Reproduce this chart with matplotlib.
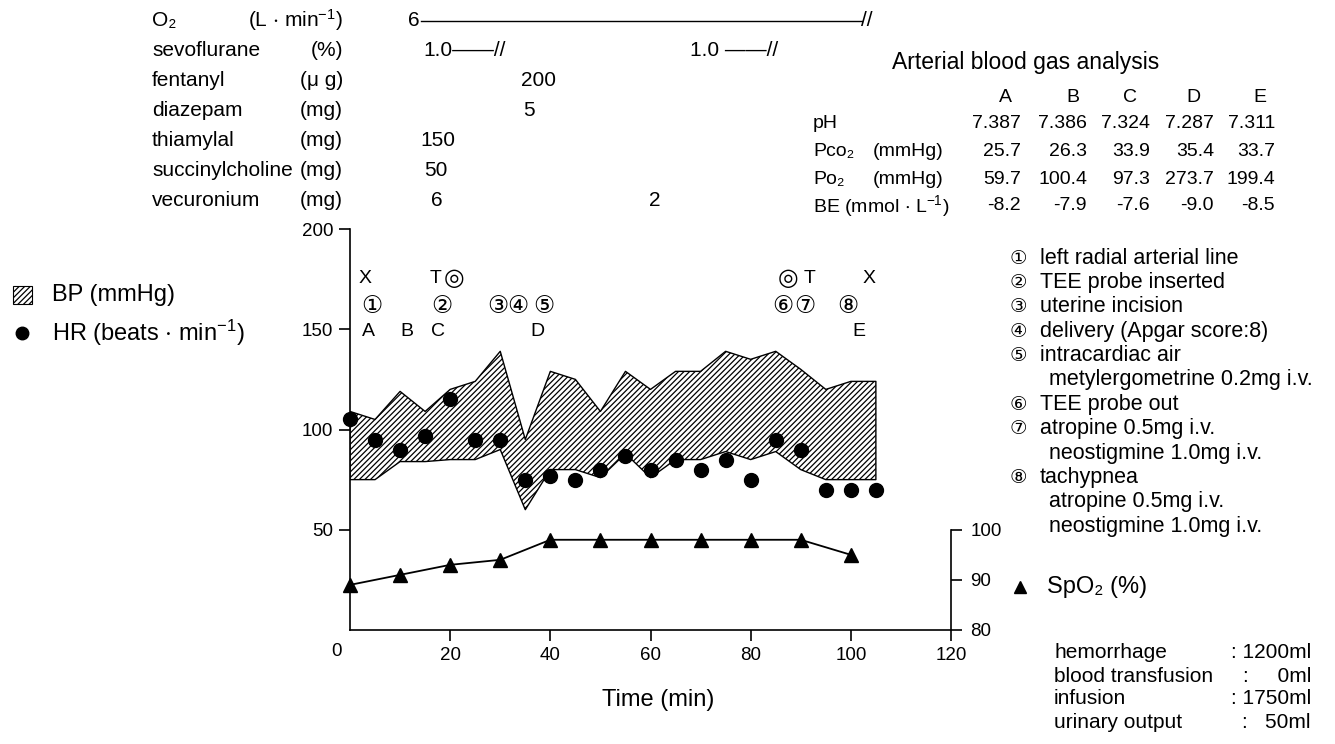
import matplotlib
matplotlib.use("Agg")
from matplotlib import pyplot as plt
from matplotlib.patches import Rectangle
from matplotlib.lines import Line2D

W, H = 1335, 744

# BP band (systolic / diastolic), HR, SpO2
t_bp = [0, 5, 10, 15, 20, 25, 30, 35, 40, 45, 50, 55, 60, 65, 70, 75, 80, 85, 90, 95, 100, 105]
bp_sys = [109, 105, 119, 109, 120, 124, 139, 95, 129, 125, 109, 129, 120, 129, 129, 139, 135, 139, 130, 120, 124, 124]
bp_dia = [75, 75, 84, 84, 85, 85, 90, 60, 80, 80, 76, 88, 76, 85, 85, 89, 85, 89, 80, 75, 75, 75]
hr = [105, 95, 90, 97, 115, 95, 95, 75, 77, 75, 80, 87, 80, 85, 80, 85, 75, 95, 90, 70, 70, 70]
t_spo2 = [0, 10, 20, 30, 40, 50, 60, 70, 80, 90, 100]
spo2 = [89, 91, 93, 94, 98, 98, 98, 98, 98, 98, 95]

# event marks above the curves: (label, time, row value)
letters = [("X", 3.0, 175.5), ("T", 17.0, 175.5), ("T", 91.7, 175.5), ("X", 103.6, 175.5),
           ("A", 3.6, 149), ("B", 11.4, 149), ("C", 17.6, 149),
           ("D", 37.5, 149), ("E", 101.6, 149)]
symbols = [("◎", 20.8, 175.5), ("◎", 87.5, 175.5),
           ("①", 4.3, 161.5), ("②", 18.3, 161.5), ("③", 29.6, 161.5),
           ("④", 33.6, 161.5), ("⑤", 38.6, 161.5), ("⑥", 86.4, 161.5),
           ("⑦", 90.8, 161.5), ("⑧", 99.3, 161.5)]

abg_cols = ["A", "B", "C", "D", "E"]
abg_ph = ["7.387", "7.386", "7.324", "7.287", "7.311"]
abg_pco2 = ["25.7", "26.3", "33.9", "35.4", "33.7"]
abg_po2 = ["59.7", "100.4", "97.3", "273.7", "199.4"]
abg_be = ["-8.2", "-7.9", "-7.6", "-9.0", "-8.5"]

drugs = ["O₂", "sevoflurane", "fentanyl", "diazepam", "thiamylal", "succinylcholine", "vecuronium"]
units = ["(L $\\cdot$ min$^{-1}$)", "(%)", "(μ g)", "(mg)", "(mg)", "(mg)", "(mg)"]

notes = [("①", "left radial arterial line"), ("②", "TEE probe inserted"),
         ("③", "uterine incision"), ("④", "delivery (Apgar score:8)"),
         ("⑤", "intracardiac air"), ("", "metylergometrine 0.2mg i.v."),
         ("⑥", "TEE probe out"), ("⑦", "atropine 0.5mg i.v."),
         ("", "neostigmine 1.0mg i.v."), ("⑧", "tachypnea"),
         ("", "atropine 0.5mg i.v."), ("", "neostigmine 1.0mg i.v.")]

balance = [("hemorrhage", ": 1200ml"), ("blood transfusion", ":     0ml"),
           ("infusion", ": 1750ml"), ("urinary output", ":   50ml")]

FAM = ["Liberation Sans", "DejaVu Sans"]
SYM = ["DejaVu Sans"]
plt.rcParams["font.family"] = FAM
plt.rcParams["mathtext.fontset"] = "custom"
plt.rcParams["mathtext.rm"] = "Liberation Sans"
plt.rcParams["mathtext.default"] = "regular"
plt.rcParams["hatch.linewidth"] = 0.9

fig = plt.figure(figsize=(W / 100, H / 100), dpi=100)
ax = fig.add_axes([350 / W, (H - 630) / H, 601 / W, 401 / H])
ax.set_xlim(0, 120)
ax.set_ylim(0, 200)

ax.fill_between(t_bp, bp_dia, bp_sys, facecolor="white", edgecolor="black",
                hatch="//////", linewidth=1.0)
ax.plot(t_bp, hr, "o", color="black", markersize=10, clip_on=False)

for s, tx, yv in letters:
    ax.text(tx, yv, s, ha="center", va="center", fontsize=14)
for s, tx, yv in symbols:
    ax.text(tx, yv, s, ha="center", va="center", fontsize=17, family=SYM)

for sp in ["top", "right"]:
    ax.spines[sp].set_visible(False)
for sp in ["left", "bottom"]:
    ax.spines[sp].set_linewidth(1.2)
ax.set_xticks([20, 40, 60, 80, 100, 120])
ax.set_yticks([50, 100, 150, 200])
ax.tick_params(direction="out", length=8, width=1.2, labelsize=13.5, pad=4)

ax2 = ax.twinx()
ax2.set_ylim(80, 160)
ax2.plot(t_spo2, spo2, "-^", color="black", markersize=10, linewidth=1.3, clip_on=False)
for sp in ["top", "left", "bottom"]:
    ax2.spines[sp].set_visible(False)
ax2.spines["right"].set_bounds(80, 100)
ax2.spines["right"].set_linewidth(1.2)
ax2.set_yticks([80, 90, 100])
ax2.tick_params(direction="out", length=8, width=1.2, labelsize=13.5, pad=6)


def ftxt(x, y, s, **kw):
    kw.setdefault("va", "center")
    kw.setdefault("fontsize", 15)
    fig.text(x / W, 1 - y / H, s, **kw)


ftxt(337, 652, "0", fontsize=13.5, ha="center")
ftxt(658, 700, "Time (min)", fontsize=17, ha="center")

# left legend
fig.add_artist(Rectangle((13 / W, 1 - 304 / H), 19 / W, 18 / H, transform=fig.transFigure,
                         facecolor="white", edgecolor="black", hatch="//////", linewidth=0.8))
fig.add_artist(Line2D([22 / W], [1 - 333 / H], marker="o", color="black", markersize=9,
                      transform=fig.transFigure))
ftxt(52, 295, "BP (mmHg)", fontsize=17)
ftxt(52, 333, "HR (beats $\\cdot$ min$^{-1}$)", fontsize=17)

# drug table
rows_y = [20, 50, 80, 110, 140, 170, 200]
for yy, d, u in zip(rows_y, drugs, units):
    ftxt(152, yy, d)
    ftxt(343, yy, u, ha="right")
ftxt(408, 20, "6")
fig.add_artist(Line2D([421 / W, 862 / W], [1 - 21 / H, 1 - 21 / H], color="black",
                      linewidth=1.0, transform=fig.transFigure))
ftxt(861, 20, "//")
ftxt(423, 50, "1.0——//")
ftxt(690, 50, "1.0 ——//")
ftxt(521, 80, "200")
ftxt(523, 110, "5")
ftxt(420, 140, "150")
ftxt(424, 170, "50")
ftxt(431, 200, "6")
ftxt(649, 200, "2")

# arterial blood gas table
ftxt(892, 62, "Arterial blood gas analysis", fontsize=16.5)
col_x = [1005, 1073, 1130, 1193, 1260]
col_r = [1021, 1087, 1150, 1214, 1275]
for cx, c in zip(col_x, abg_cols):
    ftxt(cx, 97, c, ha="center", fontsize=14)
labels = [("pH", ""), ("Pco₂", "(mmHg)"), ("Po₂", "(mmHg)"), ("BE (mmol $\\cdot$ L$^{-1}$)", "")]
for (lab, unit), yy, vals in zip(labels, [124, 152, 179, 206],
                                 [abg_ph, abg_pco2, abg_po2, abg_be]):
    ftxt(813, yy, lab, fontsize=14)
    if unit:
        ftxt(873, yy, unit, fontsize=14)
    for rx, v in zip(col_r, vals):
        ftxt(rx, yy, v, ha="right", fontsize=14)

# event notes
for i, (num, s) in enumerate(notes):
    yy = 258 + 24.4 * i
    if num:
        ftxt(1018, yy, num, ha="center", fontsize=14, family=SYM)
        ftxt(1040, yy, s, fontsize=15.5)
    else:
        ftxt(1049, yy, s, fontsize=15.5)

fig.add_artist(Line2D([1020 / W], [1 - 587 / H], marker="^", color="black", markersize=9,
                      transform=fig.transFigure))
ftxt(1047, 587, "SpO₂ (%)", fontsize=17)

for yy, (k, v) in zip([653, 677, 699, 722], balance):
    ftxt(1054, yy, k)
    ftxt(1311, yy, v, ha="right")

fig.savefig("out.png", dpi=100)
